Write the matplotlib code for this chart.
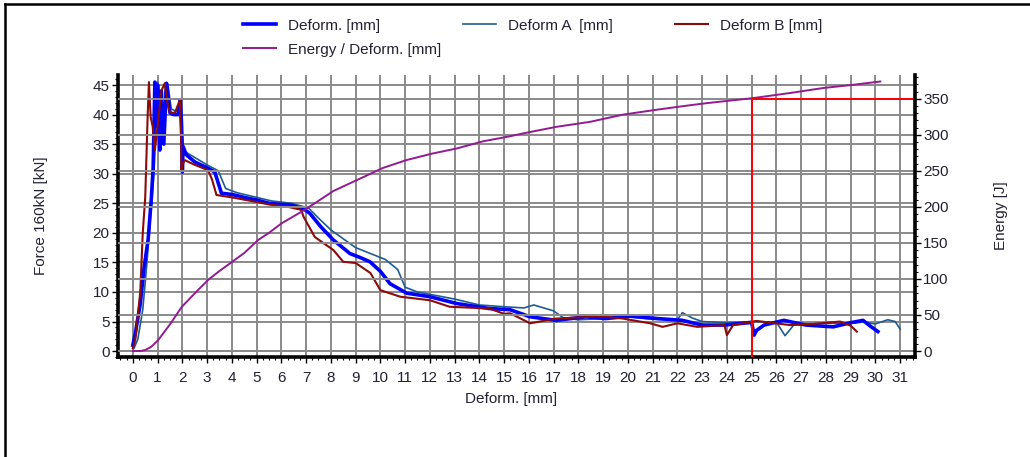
import numpy as np
import matplotlib
matplotlib.use("Agg")
import matplotlib.pyplot as plt
from matplotlib.ticker import MultipleLocator
from matplotlib.lines import Line2D

plt.rcParams['font.family'] = ['Liberation Sans', 'DejaVu Sans']

# Deform. [mm] (thick blue)
x_def = [0, 0.1, 0.3, 0.45, 0.62, 0.75, 0.82, 0.89, 0.95, 1.0, 1.09, 1.15, 1.25, 1.36, 1.45, 1.5,
         1.65, 1.83, 1.92, 1.97, 2.0, 2.03, 2.16, 2.5, 3.0, 3.31, 3.58, 4.0, 4.5, 5.06, 5.5, 6.0,
         6.41, 6.95, 7.15, 7.6, 8.1, 8.77, 9.2, 9.58, 10.0, 10.39, 11.06, 12.0, 13.08, 14.4,
         15.24, 16.05, 17.1, 18.3, 19.1, 20.1, 21.2, 22.2, 23.0, 23.9, 25.0, 25.1, 25.2, 25.5,
         26.3, 27.2, 28.3, 29.0, 29.5, 29.8, 30.1]
f_def = [1, 3, 8, 14, 19, 26, 31, 45.5, 38, 45, 34, 44, 35, 45.3, 42, 40.3,
         40, 40, 42.5, 38, 30.3, 34.6, 33.2, 32, 31, 30.3, 26.7, 26.5, 26, 25.5, 25, 24.8,
         24.7, 23.9, 23.3, 21, 18.8, 16.5, 15.8, 15.1, 13.5, 11.4, 9.8, 9.2, 8.05, 7.2,
         7.0, 5.8, 5.2, 5.8, 5.5, 5.9, 5.5, 5.2, 4.4, 4.4, 4.85, 2.7, 3.5, 4.4,
         5.2, 4.4, 4.1, 4.8, 5.2, 4.2, 3.3]

# Deform A [mm]
x_a = [0.05, 0.2, 0.4, 0.55, 0.7, 0.85, 0.95, 1.0, 1.1, 1.2, 1.3, 1.42, 1.55, 1.75, 1.9, 1.95,
       2.05, 2.2, 2.6, 3.0, 3.45, 3.75, 4.2, 5.0, 5.6, 6.4, 7.1, 7.5, 8.0, 8.5, 9.0, 9.6, 10.2,
       10.7, 11.0, 11.5, 12.0, 13.0, 14.0, 15.0, 15.8, 16.2, 17.0, 17.4, 18.0, 19.0, 20.0, 21.0,
       22.0, 22.2, 22.6, 23.0, 24.0, 25.0, 26.0, 26.35, 26.7, 27.5, 28.0, 29.0, 29.5, 30.0,
       30.5, 30.8, 31.0]
f_a = [0.5, 2, 7, 14, 22, 30, 40, 45.5, 42, 35, 44, 45, 41, 40.5, 42, 40,
       34, 33.5, 32.5, 31.5, 30.5, 27.5, 26.8, 26, 25.4, 25, 24.2, 22.5, 20.5, 19, 17.5, 16.5, 15.5,
       13.8, 10.8, 10, 9.6, 8.8, 7.8, 7.5, 7.3, 7.8, 6.8, 5.6, 5.3, 5.5, 5.8, 5.4,
       5.3, 6.5, 5.6, 5.0, 4.8, 5.0, 4.9, 2.6, 4.4, 4.6, 4.7, 4.7, 4.9, 4.6,
       5.3, 5.0, 3.7]

# Deform B [mm]
x_b = [0, 0.1, 0.2, 0.3, 0.4, 0.5, 0.55, 0.6, 0.65, 0.72, 0.8, 0.89, 1.0, 1.15, 1.29, 1.4, 1.5,
       1.7, 1.9, 1.95, 1.96, 2.0, 2.1, 2.5, 3.04, 3.2, 3.38, 4.0, 4.9, 5.5, 6.27, 6.8, 6.9, 7.35,
       8.1, 8.5, 9.0, 9.6, 10.0, 10.8, 12.0, 12.8, 14.4, 15.0, 15.24, 16.05, 17.1, 18.45, 19.1,
       19.8, 20.9, 21.4, 22.0, 22.8, 23.9, 24.0, 24.25, 25.2, 26.55, 27.5, 28.57, 29.0, 29.25]
f_b = [0.5, 2, 6, 10, 20, 26, 33, 40, 45.5, 39.6, 38, 34, 38, 44, 45.3, 42, 40.3,
       40.3, 42.5, 36, 30.6, 31.5, 32.3, 31.5, 30.6, 29, 26.4, 26, 25.3, 24.8, 24.4, 23.9, 22.7, 19.3,
       17.1, 15.1, 14.9, 13.2, 10.3, 9.2, 8.6, 7.5, 7.2, 6.3, 6.4, 4.7, 5.5, 5.8, 5.8,
       5.5, 4.7, 4.1, 4.7, 4.1, 4.4, 2.7, 4.4, 5.1, 4.4, 4.6, 5.0, 4.3, 3.3]

# Energy / Deform. [mm] (right axis, J)
x_e = [0, 0.3, 0.5, 0.75, 1.02, 1.5, 1.97, 2.5, 3.05, 3.5, 4.1, 4.5, 5.06, 5.5, 6.0, 6.35, 6.8,
       7.35, 8.1, 9.04, 10.1, 11.06, 12.1, 13.08, 14.15, 15.24, 15.77, 17.1, 18.47, 19.8, 21.2,
       22.5, 23.2, 25.07, 26.55, 27.9, 29.0, 30.2]
e_e = [0, 0, 1.4, 6, 15, 37, 61, 80, 99, 111, 126, 136, 154, 164, 177, 184, 193,
       205, 222, 237, 254, 265, 274, 281, 291, 298, 302, 311, 318, 328, 335,
       341, 344, 351, 358, 365, 369, 374]

marker_x = 25
marker_e = 350

fig = plt.figure(figsize=(10.30, 4.57), dpi=100)
ax = fig.add_axes([118/1030, 1 - 357/457, 797/1030, 282/457])
ax2 = ax.twinx()

grid_c = '#8a8a8a'
txt_c = '#222233'
fs = 11

ax.set_xlim(-0.6, 31.6)
ax.set_ylim(-1, 46.7)
ax2.set_ylim(-8.3, 383)

ax.set_xticks(range(0, 32))
ax.set_yticks(range(0, 46, 5))
ax2.set_yticks(range(0, 351, 50))
ax.xaxis.set_minor_locator(MultipleLocator(0.25))
ax.yaxis.set_minor_locator(MultipleLocator(1))
ax2.yaxis.set_minor_locator(MultipleLocator(10))

ax.grid(True, which='major', color=grid_c, lw=1.4)
ax2.grid(True, which='major', axis='y', color=grid_c, lw=1.4)
ax.set_axisbelow(True)

for a in (ax, ax2):
    a.spines['top'].set_visible(False)
    for s in ('left', 'right', 'bottom'):
        a.spines[s].set_linewidth(2.6)
        a.spines[s].set_color('black')
    a.tick_params(which='major', length=4, width=1, labelsize=fs, labelcolor=txt_c, pad=2)
    a.tick_params(which='minor', length=2.5, width=0.8)
ax.tick_params(axis='x', which='major', pad=6)
ax.spines['right'].set_visible(False)
ax2.spines['left'].set_visible(False)
ax2.spines['bottom'].set_visible(False)

l1, = ax.plot(x_def, f_def, color='#0000ff', lw=2.6, label='Deform. [mm]', zorder=4)
l2, = ax.plot(x_a, f_a, color='#1f5c94', lw=1.2, label='Deform A  [mm]', zorder=3)
l3, = ax.plot(x_b, f_b, color='#8b0a0a', lw=1.5, label='Deform B [mm]', zorder=5)
l4, = ax2.plot(x_e, e_e, color='#921a92', lw=1.4, label='Energy / Deform. [mm]')

# crosshair at 25 mm / 350 J
ax2.plot([marker_x, marker_x], [-8.3, marker_e], color='red', lw=1.4)
ax2.plot([marker_x, 31.6], [marker_e, marker_e], color='red', lw=1.4)

ax.set_xlabel('Deform. [mm]', fontsize=fs, color=txt_c)
ax.xaxis.set_label_coords(0.493, -0.125)
ax.set_ylabel('Force 160kN [kN]', fontsize=fs, color=txt_c)
ax.yaxis.set_label_coords(-0.088, 0.5)
ax2.set_ylabel('Energy [J]', fontsize=fs, color=txt_c)
ax2.yaxis.set_label_coords(1.099, 0.5)

leg_kw = dict(frameon=False, fontsize=fs, handlelength=2.2, handletextpad=0.75,
              labelspacing=0.65, borderpad=0, labelcolor=txt_c)
top = 1 - 11/457
fig.legend(handles=[l1, l4], loc='upper left', bbox_to_anchor=(235/1030, top), **leg_kw)
fig.legend(handles=[l2], loc='upper left', bbox_to_anchor=(455/1030, top), **leg_kw)
fig.legend(handles=[l3], loc='upper left', bbox_to_anchor=(667/1030, top), **leg_kw)

# outer frame
fig.add_artist(Line2D([5/1030, 1.0], [1 - 4/457, 1 - 4/457], color='black', lw=1.8, transform=fig.transFigure))
fig.add_artist(Line2D([5/1030, 5/1030], [0, 1 - 4/457], color='black', lw=1.8, transform=fig.transFigure))

fig.savefig('out.png', dpi=100)
